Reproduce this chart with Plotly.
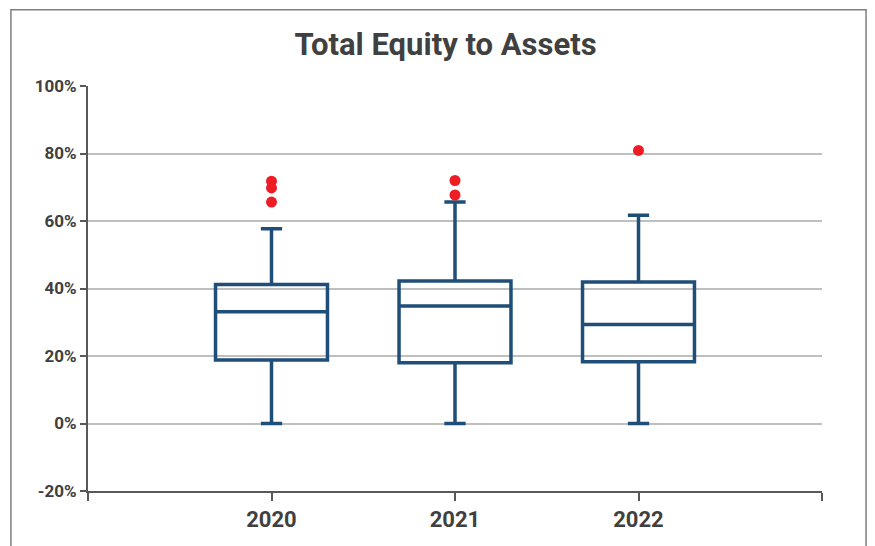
import plotly.graph_objects as go

years = [2020, 2021, 2022]
lower = [0.0, 0.0, 0.0]
q1 = [0.188, 0.180, 0.183]
median = [0.331, 0.348, 0.293]
q3 = [0.412, 0.422, 0.419]
upper = [0.577, 0.656, 0.617]

outlier_years = [2020, 2020, 2020, 2021, 2021, 2022]
outlier_values = [0.718, 0.698, 0.656, 0.720, 0.677, 0.809]

y_ticks = [-0.2, 0, 0.2, 0.4, 0.6, 0.8, 1.0]
y_labels = ["-20%", "0%", "20%", "40%", "60%", "80%", "100%"]
x_ticks = [2019, 2020, 2021, 2022, 2023]
x_labels = ["", "2020", "2021", "2022", ""]

box_color = "#1F4E79"
font = "Roboto, Arial"

fig = go.Figure()
fig.add_trace(go.Box(
    x=years,
    lowerfence=lower,
    q1=q1,
    median=median,
    q3=q3,
    upperfence=upper,
    width=0.61,
    whiskerwidth=0.19,
    line=dict(color=box_color, width=3.5),
    fillcolor="rgba(0,0,0,0)",
    showlegend=False,
))
fig.add_trace(go.Scatter(
    x=outlier_years,
    y=outlier_values,
    mode="markers",
    marker=dict(color="#EE1C24", size=11),
    showlegend=False,
))

# page body has an 8px margin, so margins are offset by that
fig.update_layout(
    width=875, height=546,
    margin=dict(l=80, r=61, t=78, b=63),
    paper_bgcolor="white",
    plot_bgcolor="white",
    title=dict(text="<b>Total Equity to Assets</b>", x=0.5, xanchor="center",
               y=0.934, yanchor="middle",
               font=dict(family=font, size=31, color="#404040")),
    font=dict(family=font, color="#595959"),
)
fig.update_xaxes(
    range=[2019, 2023],
    tickvals=x_ticks, ticktext=x_labels,
    tickfont=dict(size=22, color="#404040", weight="bold"),
    showgrid=False, zeroline=False,
    showline=True, linecolor="#595959", linewidth=2,
    ticks="outside", ticklen=8, tickwidth=2, tickcolor="#595959",
)
fig.update_yaxes(
    range=[-0.2, 1.0],
    tickvals=y_ticks, ticktext=y_labels,
    tickfont=dict(size=17, color="#404040", weight="bold"),
    showgrid=True, gridcolor="#BFBFBF", gridwidth=2, zeroline=False,
    showline=True, linecolor="#595959", linewidth=2,
    ticks="outside", ticklen=6, tickwidth=2, tickcolor="#595959",
)

# outer chart frame
fig.add_shape(type="rect", xref="paper", yref="paper",
              x0=-0.105, x1=1.060, y0=-0.3, y1=1.188,
              line=dict(color="#7F7F7F", width=1.5), layer="below")

fig.write_html("out.html")
